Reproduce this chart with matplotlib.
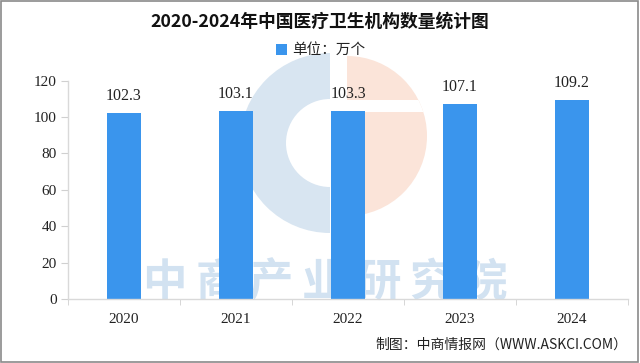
import matplotlib
matplotlib.use("Agg")
import matplotlib.pyplot as plt
from matplotlib.patches import Wedge, Rectangle
import numpy as np

years = ["2020", "2021", "2022", "2023", "2024"]
values = [102.3, 103.1, 103.3, 107.1, 109.2]
yticks = [0, 20, 40, 60, 80, 100, 120]
title = "2020-2024年中国医疗卫生机构数量统计图"
legend_label = "单位：万个"
source = "制图：中商情报网（WWW.ASKCI.COM）"
watermark = "中商产业研究院"

CJK = ["Noto Sans CJK SC", "DejaVu Sans"]
NUM = ["Liberation Serif", "Noto Sans CJK SC"]
bar_color = "#3a95ed"

fig = plt.figure(figsize=(6.4, 3.63), dpi=100)
W, H = 640, 363
ax = fig.add_axes([68 / W, 1 - 299 / H, 560 / W, (299 - 80.7) / H])

# logo watermark (behind bars)
lax = fig.add_axes([0, 0, 1, 1], zorder=-1)
lax.set_xlim(0, W)
lax.set_ylim(H, 0)
lax.set_aspect("equal")
lax.axis("off")
lax.add_patch(Wedge((330, 143), 90, 90, 270, width=46, facecolor="#d8e5f1", edgecolor="none"))
peach = Wedge((347, 136), 80, -90, 90, facecolor="#fbe4d9", edgecolor="none")
lax.add_patch(peach)
band = Rectangle((347, 100), 90, 12, facecolor="white", edgecolor="none")
lax.add_patch(band)
band.set_clip_path(peach)
for i, ch in enumerate(watermark):
    lax.text(164 + i * 53.5, 283, ch, ha="center", va="center",
             fontsize=32, family=CJK, color="#d2e2f1", fontweight="bold")
ax.set_zorder(1)
ax.patch.set_alpha(0)

x = np.arange(len(years))
ax.bar(x, values, width=0.31, color=bar_color, zorder=2)
for xi, v in zip(x, values):
    ax.text(xi, v + 5, f"{v:.1f}", ha="center", va="bottom", fontsize=11.5,
            family=NUM, color="#222222", zorder=3)

ax.set_xlim(-0.5, len(years) - 0.5)
ax.set_ylim(0, 120)
ax.set_yticks(yticks)
ax.set_yticklabels([str(t) for t in yticks], family=NUM, fontsize=11, color="#222222")
ax.set_xticks(x)
ax.set_xticklabels(years, family=NUM, fontsize=11, color="#222222")
ax.set_xticks(np.arange(-0.5, len(years)), minor=True)
ax.tick_params(axis="x", which="major", length=0, pad=10)
ax.tick_params(axis="x", which="minor", length=4, color="#d0d0d0", direction="out")
ax.tick_params(axis="y", length=5, color="#d0d0d0", pad=3)
for s in ["top", "right"]:
    ax.spines[s].set_visible(False)
for s in ["left", "bottom"]:
    ax.spines[s].set_color("#d9d9d9")
    ax.spines[s].set_linewidth(1)

fig.text(0.5, 1 - 22 / H, title, ha="center", va="center", fontsize=12.8,
         fontweight="bold", family=CJK, color="#111111")
fig.patches.append(Rectangle((276 / W, 1 - 55 / H), 11 / W, 11 / H, transform=fig.transFigure,
                             facecolor=bar_color, edgecolor="none"))
fig.text(292 / W, 1 - 49.5 / H, legend_label, ha="left", va="center", fontsize=10.5,
         family=CJK, color="#222222")
fig.text(627 / W, 1 - 345 / H, source, ha="right", va="center", fontsize=10,
         family=CJK, color="#222222")

fig.patches.append(Rectangle((1 / W, 1 / H), 637 / W, 361 / H, transform=fig.transFigure,
                             facecolor="none", edgecolor="#8a8a8a", linewidth=1.2))

fig.savefig("out.png", dpi=100)
